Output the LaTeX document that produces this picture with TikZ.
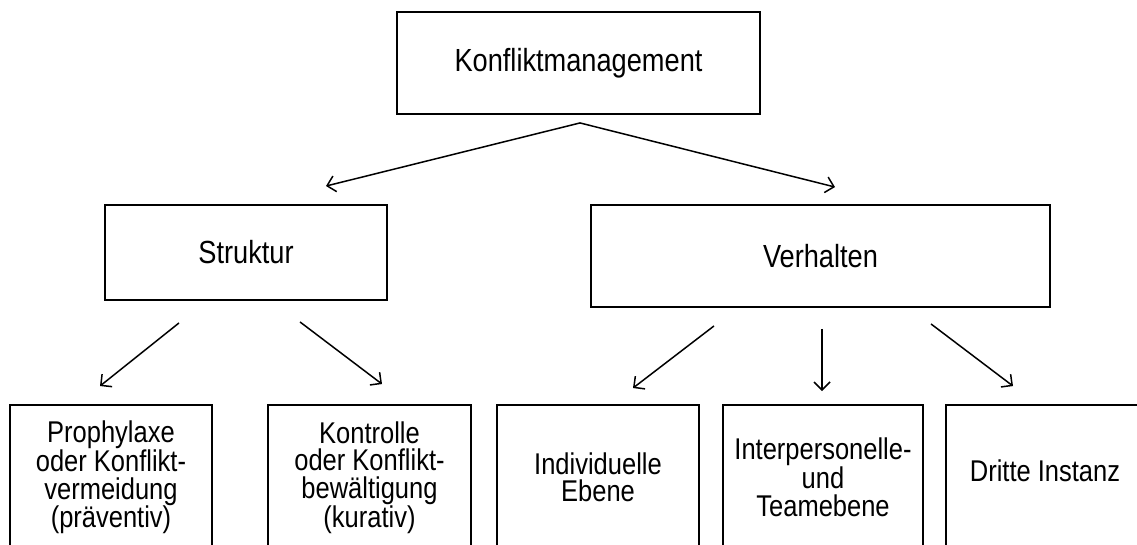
\documentclass[tikz,border=0pt]{standalone}
\usepackage{fontspec}
\setmainfont{Liberation Sans}[FakeStretch=0.85]
\usetikzlibrary{arrows.meta,calc}

\tikzset{
  box/.style={draw, line width=1.9pt, rectangle, align=center, inner sep=0pt},
  headtext/.style={font=\fontsize{32}{32}\selectfont},
  leaftext/.style={font=\fontsize{30}{27.5}\selectfont},
  arr/.style={line width=1.5pt, -{Straight Barb[length=8pt,width=16pt,line width=1.5pt]}},
}

\begin{document}
\begin{tikzpicture}[x=1pt,y=-1pt]
  \useasboundingbox (0,0) rectangle (1137,545);
  \fill[white] (0,0) rectangle (1137,545);
  \clip (0,0) rectangle (1137,545);

  % root
  \node[box, headtext, minimum width=363pt, minimum height=102pt] (root) at (578.5,63) {Konfliktmanagement};

  % second level
  \node[box, headtext, minimum width=282pt, minimum height=95pt] (struktur) at (246,252.5) {Struktur};
  \node[box, headtext, minimum width=459pt, minimum height=102pt] (verhalten) at (820.5,256) {Verhalten};

  % leaves (open towards the lower edge)
  \node[box, leaftext, minimum width=202pt, minimum height=145pt] (proph) at (111,477.5)
    {Prophylaxe\\oder Konflikt-\\vermeidung\\(präventiv)};
  \node[box, leaftext, minimum width=203pt, minimum height=145pt] (kontr) at (369.5,477.5)
    {Kontrolle\\oder Konflikt-\\bewältigung\\(kurativ)};
  \node[box, leaftext, minimum width=202pt, minimum height=145pt] (indiv) at (598,477.5)
    {Individuelle\\Ebene};
  \node[box, leaftext, minimum width=200pt, minimum height=145pt] (inter) at (823,477.5)
    {Interpersonelle-\\und\\Teamebene};
  \node[box, leaftext, minimum width=214pt, minimum height=145pt,
        label={[leaftext, xshift=-8pt, yshift=7pt]center:Dritte Instanz}] (dritte) at (1053,477.5) {};

  % connectors
  \draw[arr] ($(root.south)+(1.5,8)$) -- ($(struktur.north)+(80,-18)$);
  \draw[arr] ($(root.south)+(1.5,8)$) -- ($(verhalten.north)+(14.5,-17)$);

  \draw[arr] ($(struktur.south)+(-67,22)$) -- ($(proph.north)+(-11,-18)$);
  \draw[arr] ($(struktur.south)+(54,21)$) -- ($(kontr.north)+(12.5,-20)$);

  \draw[arr] ($(verhalten.south)+(-106.5,18)$) -- ($(indiv.north)+(35,-16)$);
  \draw[arr] ($(verhalten.south)+(1.5,21)$) -- ($(inter.north)+(-1,-13)$);
  \draw[arr] ($(verhalten.south)+(110.5,16)$) -- ($(dritte.north)+(-40,-18)$);
\end{tikzpicture}
\end{document}
